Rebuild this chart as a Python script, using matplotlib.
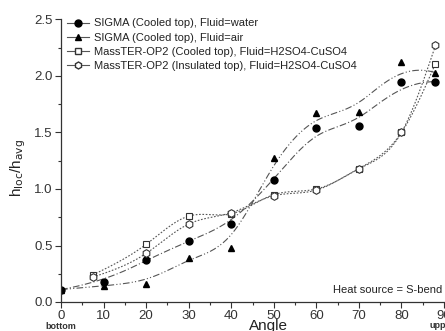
import numpy as np
import matplotlib
matplotlib.use("Agg")
import matplotlib.pyplot as plt
from matplotlib.lines import Line2D

plt.rcParams['font.family'] = ['Liberation Sans', 'DejaVu Sans']

# ---- data ----
angle_sigma = [0, 10, 20, 30, 40, 50, 60, 70, 80, 88]
sigma_water = [0.11, 0.18, 0.37, 0.54, 0.69, 1.08, 1.54, 1.56, 1.95, 1.95]
sigma_air = [0.11, 0.145, 0.16, 0.39, 0.48, 1.27, 1.67, 1.68, 2.12, 2.03]

angle_mass = [7.5, 20, 30, 40, 50, 60, 70, 80, 88]
mass_cooled = [0.24, 0.51, 0.76, 0.78, 0.95, 1.0, 1.18, 1.50, 2.11]
mass_insul = [0.22, 0.43, 0.69, 0.79, 0.94, 0.99, 1.18, 1.50, 2.27]

labels = ["SIGMA (Cooled top), Fluid=water",
          "SIGMA (Cooled top), Fluid=air",
          "MassTER-OP2 (Cooled top), Fluid=H2SO4-CuSO4",
          "MassTER-OP2 (Insulated top), Fluid=H2SO4-CuSO4"]

xticks = [0, 10, 20, 30, 40, 50, 60, 70, 80, 90]
yticks = [0.0, 0.5, 1.0, 1.5, 2.0, 2.5]


def bspline(x, y, npts=400, k=3):
    """Clamped B-spline using the data points as control points."""
    P = np.column_stack([x, y]).astype(float)
    n = len(P)
    inner = np.arange(1, n - k) / (n - k)
    t = np.concatenate([np.zeros(k + 1), inner, np.ones(k + 1)])
    u = np.linspace(0, 1, npts)
    u[-1] = 1 - 1e-12
    N = np.zeros((npts, len(t) - 1))
    for i in range(len(t) - 1):
        N[:, i] = np.where((u >= t[i]) & (u < t[i + 1]), 1.0, 0.0)
    for d in range(1, k + 1):
        Nn = np.zeros((npts, len(t) - 1 - d))
        for i in range(len(t) - 1 - d):
            den1 = t[i + d] - t[i]
            den2 = t[i + d + 1] - t[i + 1]
            term = np.zeros(npts)
            if den1 > 0:
                term += (u - t[i]) / den1 * N[:, i]
            if den2 > 0:
                term += (t[i + d + 1] - u) / den2 * N[:, i + 1]
            Nn[:, i] = term
        N = Nn
    C = N @ P
    return C[:, 0], C[:, 1]


def natural_spline(x, y, npts=400):
    x = np.asarray(x, float); y = np.asarray(y, float)
    n = len(x)
    h = np.diff(x)
    A = np.zeros((n, n)); b = np.zeros(n)
    A[0, 0] = 1; A[-1, -1] = 1
    for i in range(1, n - 1):
        A[i, i - 1] = h[i - 1]
        A[i, i] = 2 * (h[i - 1] + h[i])
        A[i, i + 1] = h[i]
        b[i] = 3 * ((y[i + 1] - y[i]) / h[i] - (y[i] - y[i - 1]) / h[i - 1])
    c = np.linalg.solve(A, b)
    xs = np.linspace(x[0], x[-1], npts)
    out = np.empty_like(xs)
    for k, xv in enumerate(xs):
        i = min(max(np.searchsorted(x, xv) - 1, 0), n - 2)
        dx = xv - x[i]
        bi = (y[i + 1] - y[i]) / h[i] - h[i] * (2 * c[i] + c[i + 1]) / 3
        di = (c[i + 1] - c[i]) / (3 * h[i])
        out[k] = y[i] + bi * dx + c[i] * dx ** 2 + di * dx ** 3
    return xs, out


W, H = 445, 331
fig = plt.figure(figsize=(W / 100, H / 100), dpi=100)
ax = fig.add_axes([61 / W, 1 - 302 / H, (444 - 61) / W, (302 - 19.5) / H])

lc = '#555555'
cx, cy = bspline(angle_sigma, sigma_water)
ax.plot(cx, cy, color=lc, lw=0.8, ls=(0, (6, 2, 1, 2)))
cx, cy = bspline(angle_sigma, sigma_air)
ax.plot(cx, cy, color=lc, lw=0.8, ls=(0, (6, 2, 1, 2, 1, 2)))
cx, cy = natural_spline(angle_mass, mass_cooled)
ax.plot(cx, cy, color=lc, lw=0.8, ls=(0, (1.5, 1.5)))
cx, cy = natural_spline(angle_mass, mass_insul)
ax.plot(cx, cy, color=lc, lw=0.8, ls=(0, (1.5, 1.5)))

ms = 5
ax.plot(angle_sigma, sigma_water, 'o', color='black', ms=ms, ls='none')
ax.plot(angle_sigma, sigma_air, '^', color='black', ms=ms, ls='none')
ax.plot(angle_mass, mass_cooled, 's', mfc='white', mec='#333333', mew=0.8, ms=ms, ls='none')
ax.plot(angle_mass, mass_insul, 'h', mfc='white', mec='#333333', mew=0.8, ms=ms + 0.5, ls='none')

handles = [
    Line2D([], [], color=lc, lw=0.8, marker='o', mfc='black', mec='black', ms=ms),
    Line2D([], [], color=lc, lw=0.8, marker='^', mfc='black', mec='black', ms=ms),
    Line2D([], [], color=lc, lw=0.8, marker='s', mfc='white', mec='#333333', ms=ms - 0.5),
    Line2D([], [], color=lc, lw=0.8, marker='h', mfc='white', mec='#333333', ms=ms),
]
ax.legend(handles, labels, loc='upper left', frameon=False, fontsize=8,
          handlelength=2.0, handletextpad=0.4, labelspacing=0.38,
          borderaxespad=0.0, borderpad=0.0,
          bbox_to_anchor=(6 / 383, 1 + 1 / 282.5), labelcolor='#222222')

ax.set_xlim(0, 90)
ax.set_ylim(0, 2.5)
ax.set_xticks(xticks)
ax.set_yticks(yticks)
ax.set_xticklabels([str(t) for t in xticks], fontsize=9.5, color='#333333')
ax.set_yticklabels([f"{t:.1f}" for t in yticks], fontsize=9.5, color='#333333')
ax.set_xticks(np.arange(5, 90, 10), minor=True)
ax.set_yticks(np.arange(0.25, 2.5, 0.5), minor=True)
ax.tick_params(which='major', direction='out', length=4, width=0.8, color='#333333', pad=2)
ax.tick_params(which='minor', direction='out', length=2, width=0.8, color='#333333')
for s in ['top', 'right']:
    ax.spines[s].set_visible(False)
for s in ['left', 'bottom']:
    ax.spines[s].set_color('#333333')
    ax.spines[s].set_linewidth(0.9)

fig.text(18 / W, 1 - 168 / H, r'h$_{\mathrm{loc}}$/h$_{\mathrm{avg}}$', rotation=90,
         ha='center', va='center', fontsize=11, color='#222222')
fig.text(268 / W, 1 - 326 / H, 'Angle', ha='center', va='center', fontsize=11, color='#222222')
fig.text(61 / W, 1 - 326.5 / H, 'bottom', ha='center', va='center',
         fontsize=6.5, fontweight='bold', color='#333333')
fig.text(442 / W, 1 - 325 / H, 'upper', ha='center', va='center',
         fontsize=6.5, fontweight='bold', color='#333333')
fig.text(442 / W, 1 - 290 / H, 'Heat source = S-bend', ha='right', va='center',
         fontsize=8, color='#222222')

fig.savefig('out.png', dpi=100)
